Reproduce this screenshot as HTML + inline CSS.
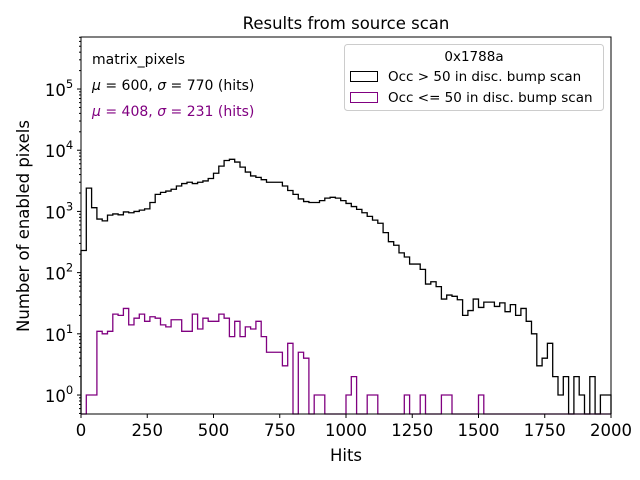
<!DOCTYPE html>
<html><head><meta charset="utf-8"><style>
body{margin:0;background:#fff;}
svg{display:block;font-family:"DejaVu Sans","Liberation Sans",sans-serif;}
</style></head><body>
<svg id="chart" width="640" height="480" viewBox="0 0 640 480">
<rect width="640" height="480" fill="#fff"/>
<text x="346" y="29" font-size="16.5" text-anchor="middle">Results from source scan</text>
<g id="marks"></g>
<g id="axes"></g>
<rect x="81" y="37" width="530" height="377" fill="none" stroke="#000" stroke-width="1"/>
<text x="346" y="461" font-size="16.5" text-anchor="middle">Hits</text>
<text transform="translate(29,226) rotate(-90)" font-size="16.5" text-anchor="middle">Number of enabled pixels</text>
<text x="92" y="64" font-size="14">matrix_pixels</text>
<text x="92" y="90" font-size="14"><tspan font-style="italic">μ</tspan> = 600, <tspan font-style="italic">σ</tspan> = 770 (hits)</text>
<text x="92" y="116" font-size="14" fill="#800080"><tspan font-style="italic">μ</tspan> = 408, <tspan font-style="italic">σ</tspan> = 231 (hits)</text>
<g>
<rect x="344.5" y="44.5" width="259" height="66" rx="3" fill="#fff" fill-opacity="0.8" stroke="#ccc"/>
<text x="474" y="61" font-size="13.5" text-anchor="middle">0x1788a</text>
<rect x="350.5" y="71.5" width="27" height="10" fill="none" stroke="#000"/>
<text x="388" y="81" font-size="13.5">Occ &gt; 50 in disc. bump scan</text>
<rect x="350.5" y="92.5" width="27" height="10" fill="none" stroke="#800080"/>
<text x="388" y="102" font-size="13.5">Occ &lt;= 50 in disc. bump scan</text>
</g>
</svg>
<script>
const binEdgesStart = 0, binWidth = 20;
const blackCounts = [230,2400,1150,750,700,870,910,880,980,950,1000,1050,1100,1400,1900,2050,2150,2300,2600,2850,3000,2850,3000,3150,3450,4200,5500,6800,7100,6400,5300,4400,3800,3600,3300,3000,3000,3000,2600,2200,1900,1600,1450,1400,1400,1500,1650,1700,1650,1500,1350,1200,1080,950,830,720,640,450,320,280,210,180,138,138,113,65,71,59,37,43,41,36,20,24,37,27,33,33,28,32,23,30,20,26,16,10,3,4,7,2,1,2,0,2,1,0,2,0,1,1];
const purpleCounts = [0,1,1,11,10,11,21,20,26,14,18,21,16,19,18,14,13,17,17,11,11,21,12,18,16,16,21,18,9,16,9,13,12,16,9,5,5,5,3,7,0,5,4,0,1,1,0,0,0,0,1,2,0,0,1,1,0,0,0,0,0,1,0,0,1,0,0,0,1,1,0,0,0,0,0,1,0,0,0,0,0,0,0,0,0,0,0,0,0,0,0,0,0,0,0,0,0,0,0,0];
const xTicks = [0,250,500,750,1000,1250,1500,1750,2000];
const yTickExps = [0,1,2,3,4,5];
const NS="http://www.w3.org/2000/svg";
const X0=81,X1=611,Y0=414,Y1=37,XMAX=2000,LMIN=-0.31,LMAX=5.85;
function xs(v){return X0+(v/XMAX)*(X1-X0);}
function ys(c){if(c<=0)return Y0;const l=Math.log10(c);return Y0-(l-LMIN)/(LMAX-LMIN)*(Y0-Y1);}
function stepPath(counts){
  let d="M"+xs(binEdgesStart)+","+Y0;
  counts.forEach((c,i)=>{const a=xs(binEdgesStart+i*binWidth),b=xs(binEdgesStart+(i+1)*binWidth),y=ys(c);d+=" L"+a+","+y+" L"+b+","+y;});
  d+=" L"+xs(binEdgesStart+counts.length*binWidth)+","+Y0;return d;
}
const marks=document.getElementById('marks');
[[blackCounts,"#000","series-occ-gt-50"],[purpleCounts,"#800080","series-occ-le-50"]].forEach(([c,col,nm])=>{
  const p=document.createElementNS(NS,"path");
  p.setAttribute("d",stepPath(c));p.setAttribute("fill","none");p.setAttribute("stroke",col);p.setAttribute("stroke-width","1.3");
  
  
  marks.appendChild(p);
});
const axes=document.getElementById('axes');
function line(x1,y1,x2,y2){const l=document.createElementNS(NS,"line");l.setAttribute("x1",x1);l.setAttribute("y1",y1);l.setAttribute("x2",x2);l.setAttribute("y2",y2);l.setAttribute("stroke","#000");axes.appendChild(l);return l;}
xTicks.forEach(v=>{
  const x=xs(v);const t=line(x,Y0,x,Y0+4);
  
  
  const tx=document.createElementNS(NS,"text");tx.setAttribute("x",x);tx.setAttribute("y",Y0+22);tx.setAttribute("font-size","16.5");tx.setAttribute("text-anchor","middle");tx.textContent=v;
  
  
  axes.appendChild(tx);
});
for(let e=-1;e<=5;e++){for(let m=2;m<=9;m++){const v=m*Math.pow(10,e);const y=ys(v);if(y<Y1||y>Y0)continue;const t=line(X0-2,y,X0,y);
  
  }}
yTickExps.forEach(e=>{
  const y=ys(Math.pow(10,e));const t=line(X0-4,y,X0,y);
  
  
  const tx=document.createElementNS(NS,"text");tx.setAttribute("x",X0-22);tx.setAttribute("y",y+7);tx.setAttribute("font-size","16.5");tx.setAttribute("text-anchor","middle");
  tx.innerHTML='10<tspan font-size="11.5" dy="-8">'+e+'</tspan>';
  
  
  axes.appendChild(tx);
});
</script>
</body></html>
